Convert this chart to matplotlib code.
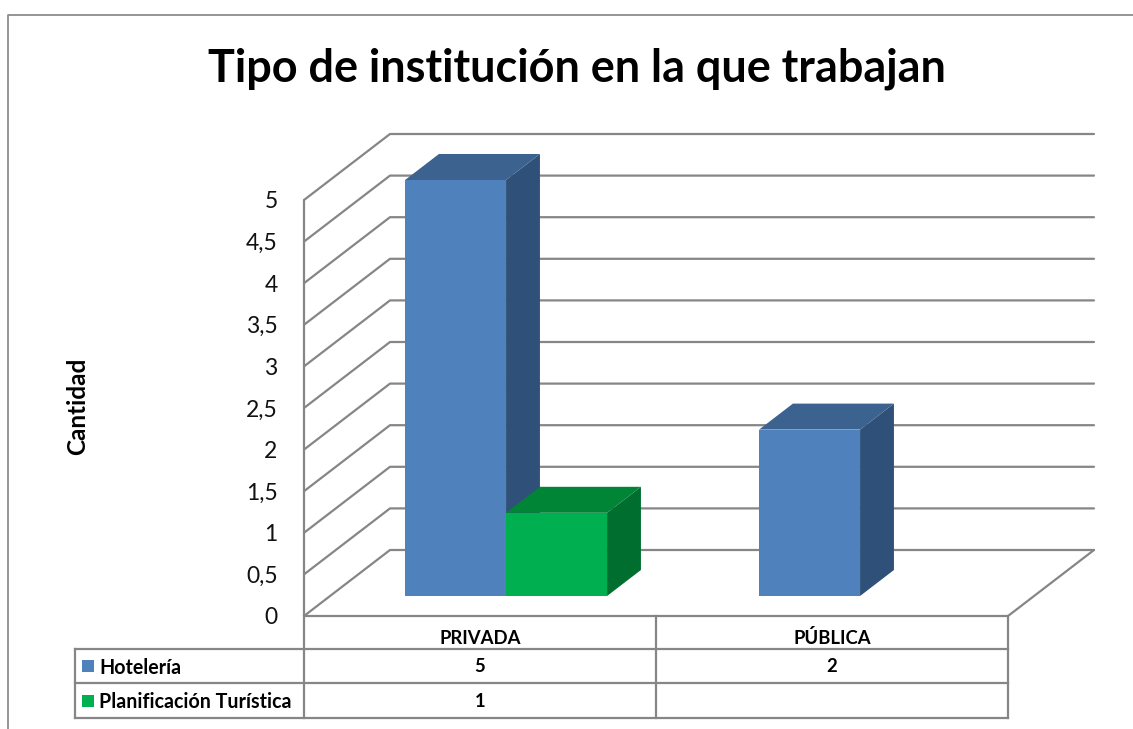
import matplotlib
matplotlib.use("Agg")
import matplotlib.pyplot as plt
from matplotlib.patches import Polygon, Rectangle

title = "Tipo de institución en la que trabajan"
ylabel = "Cantidad"
categories = ["PRIVADA", "PÚBLICA"]
series_names = ["Hotelería", "Planificación Turística"]
hoteleria = [5, 2]
planificacion = [1, None]
yticks = [0, 0.5, 1, 1.5, 2, 2.5, 3, 3.5, 4, 4.5, 5]
ytick_labels = ["0", "0,5", "1", "1,5", "2", "2,5", "3", "3,5", "4", "4,5", "5"]

FONT = "Lato"
W, H = 1133, 729
GRID = "#868686"
LW = 1.6
FRONT = ["#4F81BD", "#00B050"]
TOP = ["#3C6290", "#008537"]
SIDE = ["#2F5078", "#006E2F"]

fig = plt.figure(figsize=(W / 100, H / 100), dpi=100, facecolor="white")

# overlay in pixel units for frame and data table
ov = fig.add_axes([0, 0, 1, 1])
ov.set_xlim(0, W)
ov.set_ylim(H, 0)
ov.axis("off")

ax = fig.add_axes([304 / W, (H - 616) / H, 704 / W, 416 / H])
ax.set_xlim(0, 2)
ax.set_ylim(0, 5)
ax.patch.set_alpha(0)
for s in ax.spines.values():
    s.set_visible(False)

# oblique depth, in data units per unit of depth
DX = 86 / 352
DY = 66 / 83.2


def proj(x, y, d):
    return (x + d * DX, y + d * DY)


def ln(pts, **kw):
    xs, ys = zip(*pts)
    ax.plot(xs, ys, color=GRID, lw=LW, clip_on=False, solid_capstyle="round", **kw)


# walls
for v in yticks:
    ln([proj(0, v, 0), proj(0, v, 1), proj(2, v, 1)])
ln([proj(0, 0, 0), proj(0, 5, 0)])
ln([proj(0, 0, 0), proj(2, 0, 0), proj(2, 0, 1)])

# bars
BAR_W = 101 / 352
D0, D1 = 20 / 66, 46 / 66


def bar(x0, v, i):
    x1 = x0 + BAR_W
    ax.add_patch(Polygon([proj(x1, 0, D0), proj(x1, 0, D1), proj(x1, v, D1), proj(x1, v, D0)],
                         fc=SIDE[i], ec="none", clip_on=False, zorder=3 + i))
    ax.add_patch(Polygon([proj(x0, v, D0), proj(x1, v, D0), proj(x1, v, D1), proj(x0, v, D1)],
                         fc=TOP[i], ec="none", clip_on=False, zorder=3 + i))
    ax.add_patch(Polygon([proj(x0, 0, D0), proj(x1, 0, D0), proj(x1, v, D0), proj(x0, v, D0)],
                         fc=FRONT[i], ec="none", clip_on=False, zorder=3 + i))


for c, (a, b) in enumerate(zip(hoteleria, planificacion)):
    start = c * 354 / 352 + (405 - 304 - 26) / 352
    if a is not None:
        bar(start, a, 0)
    if b is not None:
        bar(start + BAR_W, b, 1)

# y axis
ax.set_xticks([])
ax.set_yticks(yticks)
ax.set_yticklabels(ytick_labels, fontsize=16.5, family=FONT, color="#111111")
ax.tick_params(axis="y", length=0, pad=19)
ax.set_ylabel(ylabel, fontsize=17.5, family=FONT, fontweight="bold")
ax.yaxis.set_label_coords((89 - 304) / 704, 0.505)

# frame
ov.plot([8, 8, W], [H, 15, 15], color="#8C8C8C", lw=1.3)
ov.text(577, 69, title, ha="center", va="center", fontsize=32.4, family=FONT, fontweight="bold")

# data table
tx = [304, 656, 1008]
ty = [616, 649, 683, 718]
for y in ty[1:]:
    ov.plot([75, 1008], [y, y], color=GRID, lw=LW)
for x in tx:
    ov.plot([x, x], [616, 718], color=GRID, lw=LW)
ov.plot([75, 75], [649, 718], color=GRID, lw=LW)

for i, cat in enumerate(categories):
    xc = (tx[i] + tx[i + 1]) / 2
    ov.text(xc, 638.5, cat, ha="center", va="center", fontsize=13.3, family=FONT, fontweight="bold")
    for row, vals in enumerate([hoteleria, planificacion]):
        if vals[i] is not None:
            ov.text(xc, (ty[row + 1] + ty[row + 2]) / 2 + 1, str(vals[i]), ha="center", va="center",
                    fontsize=13.3, family=FONT, fontweight="bold")
for row, name in enumerate(series_names):
    yc = (ty[row + 1] + ty[row + 2]) / 2
    ov.add_patch(Rectangle((82, yc - 6), 12, 12, fc=FRONT[row], ec="none"))
    ov.text(99, yc + 1.5, name, ha="left", va="center", fontsize=14.15, family=FONT, fontweight="bold")

fig.savefig("out.png", dpi=100)
